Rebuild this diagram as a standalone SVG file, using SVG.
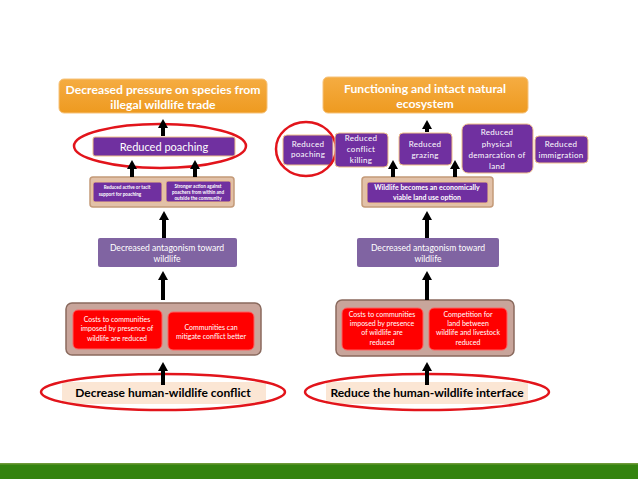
<svg xmlns="http://www.w3.org/2000/svg" width="638" height="479" viewBox="0 0 638 479">
<defs>
<marker id="ah" viewBox="0 0 10 10" refX="2" refY="5" markerWidth="10" markerHeight="10" markerUnits="userSpaceOnUse" orient="auto">
<path d="M0,0 L9,5 L0,10 z" fill="#000"/>
</marker>
<linearGradient id="og" x1="0" y1="0" x2="0" y2="1">
<stop offset="0" stop-color="#f5ac42"/>
<stop offset="1" stop-color="#ee9a20"/>
</linearGradient>
</defs>
<style>
text{font-family:Lato,"Open Sans","Liberation Sans",sans-serif;text-anchor:middle;fill:#fff}
.title{font-size:12.2px;font-weight:bold}
.orange{fill:url(#og);stroke:#f6c27a;stroke-width:1}
.pur{fill:#7030a0;stroke:#f0c088;stroke-width:1}
.lpur{fill:#8064a2}
.red{fill:#ff0000;stroke:#ff6060;stroke-width:1}
.tan{fill:#e2c1a8;stroke:#c49a78;stroke-width:1.5}
.brown{fill:#c8a59b;stroke:#8a6a5e;stroke-width:1.5}
.ring{fill:none;stroke:#e2141b;stroke-width:2.5}
.beige{fill:#fbe6d4}
.s7{font-size:8px;letter-spacing:0.3px}
.s65{font-size:7px}
.s8{font-size:8.6px}
.tiny{font-size:4.6px;font-weight:bold}
.big{font-size:12px;font-weight:bold;fill:#000}
.con line{stroke:#000;stroke-width:4;marker-end:url(#ah)}
</style>
<rect x="0" y="0" width="638" height="479" fill="#fff"/>

<!-- LEFT -->
<g id="l-goal">
<rect class="orange" x="59" y="79" width="208" height="34" rx="5"/>
<text class="title" x="163" y="94">Decreased pressure on species from</text>
<text class="title" x="163" y="109">illegal wildlife trade</text>
</g>
<g id="l-poaching">
<rect class="pur" x="93" y="137" width="142" height="19" rx="2" stroke="none"/>
<text x="164" y="151" font-size="11">Reduced poaching</text>
<ellipse class="ring" cx="160" cy="146" rx="86" ry="22"/>
</g>
<g id="l-actions">
<rect class="tan" x="90" y="177" width="144" height="30" rx="3"/>
<rect class="pur" x="93" y="182" width="69" height="20" rx="2" stroke="none"/>
<text class="tiny" x="127" y="189">Reduced active or tacit</text>
<text class="tiny" x="120" y="196">support for poaching</text>
<rect class="pur" x="166" y="181" width="65" height="21" rx="2" stroke="none"/>
<text class="tiny" x="198" y="188">Stronger action against</text>
<text class="tiny" x="198" y="194">poachers from within and</text>
<text class="tiny" x="198" y="200">outside the community</text>
</g>
<g id="l-antagonism">
<rect class="lpur" x="98" y="238" width="139" height="29" rx="2"/>
<text class="s8" x="167" y="251">Decreased antagonism toward</text>
<text class="s8" x="167" y="262">wildlife</text>
</g>
<g id="l-costs">
<rect class="brown" x="66" y="303" width="195" height="52" rx="6"/>
<rect class="red" x="73" y="310" width="89" height="39" rx="5"/>
<text class="s65" x="117" y="322">Costs to communities</text>
<text class="s65" x="117" y="331">imposed by presence of</text>
<text class="s65" x="117" y="341">wildlife are reduced</text>
<rect class="red" x="168" y="312" width="86" height="38" rx="5"/>
<text class="s65" x="211" y="330">Communities can</text>
<text class="s65" x="211" y="339">mitigate conflict better</text>
</g>
<g id="l-root">
<rect class="beige" x="62" y="382" width="204" height="22"/>
<ellipse class="ring" cx="163" cy="392" rx="122" ry="18"/>
<text class="big" x="163" y="397">Decrease human-wildlife conflict</text>
</g>

<!-- RIGHT -->
<g id="r-goal">
<rect class="orange" x="323" y="77" width="205" height="36" rx="5"/>
<text class="title" x="425" y="93">Functioning and intact natural</text>
<text class="title" x="425" y="108">ecosystem</text>
</g>
<g id="r-poaching">
<rect class="pur" x="283" y="135" width="50" height="30" rx="4"/>
<text class="s7" x="308" y="147">Reduced</text>
<text class="s7" x="308" y="157">poaching</text>
<ellipse class="ring" cx="306" cy="149" rx="30" ry="27"/>
</g>
<g id="r-conflict">
<rect class="pur" x="335" y="133" width="53" height="34" rx="4"/>
<text class="s7" x="361" y="141">Reduced</text>
<text class="s7" x="361" y="152">conflict</text>
<text class="s7" x="361" y="163">killing</text>
</g>
<g id="r-grazing">
<rect class="pur" x="399" y="133" width="53" height="32" rx="4"/>
<text class="s7" x="425" y="147">Reduced</text>
<text class="s7" x="425" y="158">grazing</text>
</g>
<g id="r-demarcation">
<rect class="pur" x="462" y="124" width="71" height="49" rx="6"/>
<text class="s7" x="497" y="135">Reduced</text>
<text class="s7" x="497" y="147">physical</text>
<text class="s7" x="497" y="158">demarcation of</text>
<text class="s7" x="497" y="169">land</text>
</g>
<g id="r-immigration">
<rect class="pur" x="535" y="136" width="53" height="27" rx="4"/>
<text class="s7" x="561" y="147">Reduced</text>
<text class="s7" x="561" y="158">immigration</text>
</g>
<g id="r-viable">
<rect class="tan" x="362" y="177" width="131" height="30" rx="3"/>
<rect class="pur" x="367" y="182" width="121" height="21" rx="2" stroke="none"/>
<text class="s65" x="427" y="190" font-weight="bold">Wildlife becomes an economically</text>
<text class="s65" x="427" y="200" font-weight="bold">viable land use option</text>
</g>
<g id="r-antagonism">
<rect class="lpur" x="357" y="238" width="142" height="29" rx="2"/>
<text class="s8" x="428" y="251">Decreased antagonism toward</text>
<text class="s8" x="428" y="262">wildlife</text>
</g>
<g id="r-costs">
<rect class="brown" x="336" y="300" width="178" height="56" rx="6"/>
<rect class="red" x="342" y="308" width="81" height="42" rx="5"/>
<text class="s65" x="382" y="317">Costs to communities</text>
<text class="s65" x="382" y="326">imposed by presence</text>
<text class="s65" x="382" y="335">of wildlife are</text>
<text class="s65" x="382" y="345">reduced</text>
<rect class="red" x="429" y="308" width="78" height="42" rx="5"/>
<text class="s65" x="468" y="317">Competition for</text>
<text class="s65" x="468" y="326">land between</text>
<text class="s65" x="468" y="335">wildlife and livestock</text>
<text class="s65" x="468" y="345">reduced</text>
</g>
<g id="r-root">
<rect class="beige" x="326" y="382" width="202" height="22"/>
<ellipse class="ring" cx="427" cy="392" rx="122" ry="18"/>
<text class="big" x="427" y="397">Reduce the human-wildlife interface</text>
</g>

<g id="connectors" class="con">
<line x1="163" y1="136" x2="163" y2="126"/>
<line x1="132" y1="177" x2="132" y2="167"/>
<line x1="195" y1="177" x2="195" y2="167"/>
<line x1="164" y1="238" x2="164" y2="218"/>
<line x1="163" y1="300" x2="163" y2="278"/>
<line x1="163" y1="385" x2="163" y2="369"/>
<line x1="427" y1="132" x2="427" y2="127"/>
<line x1="393" y1="177" x2="393" y2="167"/>
<line x1="455" y1="177" x2="455" y2="167"/>
<line x1="427" y1="238" x2="427" y2="218"/>
<line x1="427" y1="300" x2="427" y2="278"/>
<line x1="427" y1="385" x2="427" y2="369"/>
</g>

<rect x="0" y="463" width="638" height="16" fill="#34830f"/>
<rect x="0" y="463" width="638" height="1.5" fill="#6f9a3a"/>
</svg>
